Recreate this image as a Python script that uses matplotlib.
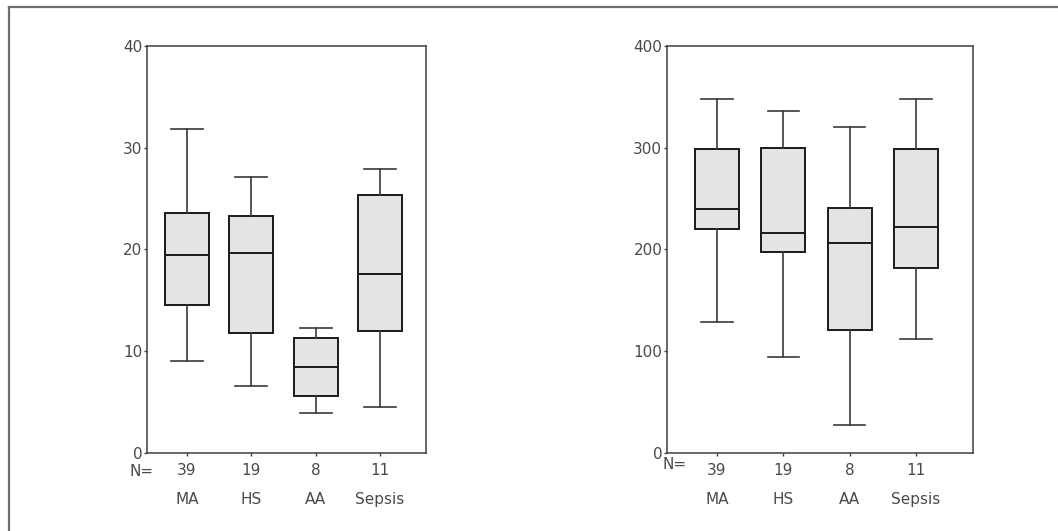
import matplotlib
matplotlib.use("Agg")
from matplotlib import pyplot
from matplotlib.lines import Line2D

# -----------------------------------------------------------------------------
groups = ["MA", "HS", "AA", "Sepsis"]
counts = [39, 19, 8, 11]

# left panel (0-40)
left_lo  = [9.0, 6.6, 3.9, 4.5]
left_q1  = [14.5, 11.8, 5.6, 12.0]
left_med = [19.4, 19.6, 8.4, 17.6]
left_q3  = [23.6, 23.3, 11.3, 25.3]
left_hi  = [31.8, 27.1, 12.3, 27.9]

# right panel (0-400)
right_lo  = [129, 94, 27, 112]
right_q1  = [220, 197, 121, 182]
right_med = [240, 216, 206, 222]
right_q3  = [299, 300, 241, 299]
right_hi  = [348, 336, 320, 348]

TXT = "#4a4a4a"
AX = "#404040"

# -----------------------------------------------------------------------------
def boxpanel(ax, lo, q1, med, q3, hi, ymax, xlim, width, cap, nx, ny):
    stats = [dict(whislo=a, q1=b, med=c, q3=d, whishi=e, fliers=[], label=str(n))
             for a, b, c, d, e, n in zip(lo, q1, med, q3, hi, counts)]
    pos = list(range(1, len(stats) + 1))
    ax.bxp(stats, positions=pos, widths=width, capwidths=cap, patch_artist=True,
           showfliers=False,
           boxprops=dict(facecolor="#e4e4e4", edgecolor="#1a1a1a", linewidth=1.4),
           medianprops=dict(color="#1a1a1a", linewidth=1.4),
           whiskerprops=dict(color="#3a3a3a", linewidth=1.2),
           capprops=dict(color="#3a3a3a", linewidth=1.2))
    ax.set_xlim(*xlim)
    ax.set_ylim(0, ymax)
    ax.set_yticks([0, ymax * 0.25, ymax * 0.5, ymax * 0.75, ymax])
    ax.set_yticklabels([str(int(v)) for v in ax.get_yticks()])
    ax.set_xticks(pos)
    ax.set_xticklabels(["%d\n%s" % (n, g) for n, g in zip(counts, groups)],
                       linespacing=2.1)
    ax.tick_params(direction="out", length=2.2, width=1.0, color=AX,
                   labelsize=11, labelcolor=TXT)
    ax.tick_params(axis="y", pad=1)
    ax.tick_params(axis="x", pad=5.5)
    for s in ax.spines.values():
        s.set_color(AX)
        s.set_linewidth(1.1)
    ax.text(nx, ny, "N=", transform=ax.transAxes, ha="left", va="center",
            fontsize=11, color=TXT)

# -----------------------------------------------------------------------------
fig = pyplot.figure(figsize=(10.58, 5.31), dpi=100, facecolor="w")

ax1 = fig.add_axes([147 / 1058, 1 - 452.7 / 531, 279 / 1058, 406.7 / 531])
boxpanel(ax1, left_lo, left_q1, left_med, left_q3, left_hi, 40,
         (0.378, 4.715), 0.68, 0.5, -0.061, -0.047)

ax2 = fig.add_axes([666.7 / 1058, 1 - 452.7 / 531, 306 / 1058, 406.7 / 531])
boxpanel(ax2, right_lo, right_q1, right_med, right_q3, right_hi, 400,
         (0.242, 4.855), 0.66, 0.47, -0.015, -0.030)

# outer frame (top and left edges only)
fig.add_artist(Line2D([8.5 / 1058, 1], [1 - 7 / 531, 1 - 7 / 531],
                      transform=fig.transFigure, color="#6e6e6e", linewidth=1.6))
fig.add_artist(Line2D([8.5 / 1058, 8.5 / 1058], [0, 1 - 7 / 531],
                      transform=fig.transFigure, color="#6e6e6e", linewidth=1.6))

pyplot.savefig("out.png", dpi=100)
